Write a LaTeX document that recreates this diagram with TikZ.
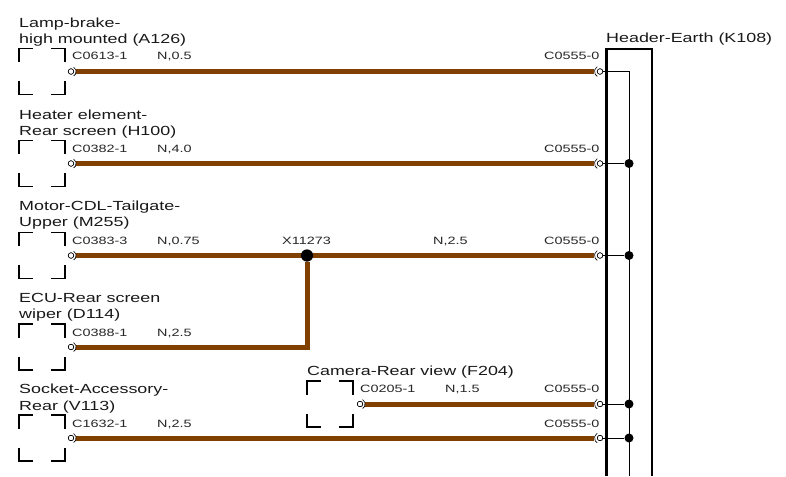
\documentclass[tikz,border=0pt]{standalone}
\usepackage{fontspec}
\setmainfont{Liberation Sans}
\newfontfamily\ttlfont[FakeStretch=1.355]{Liberation Sans}
\newfontfamily\smlfont[FakeStretch=1.36]{Liberation Sans}
\definecolor{wirebrown}{RGB}{128,64,0}
\tikzset{
  x=1pt,y=-1pt,
  wirep/.style={draw=wirebrown,line width=5pt},
  brk/.style={draw=black,line width=1.8pt},
  thin wire/.style={draw=black,line width=1pt},
  bar/.style={draw=black,line width=2.4pt},
  title/.style={inner sep=0pt,anchor=base west,font=\ttlfont\fontsize{13.2}{15}\selectfont,text=black!90},
  small/.style={inner sep=0pt,anchor=base west,font=\smlfont\fontsize{10.6}{12}\selectfont,text=black!85},
  term/.style={circle,draw=black,fill=white,line width=.6pt,minimum size=5.5pt,inner sep=0pt},
  dot/.style={circle,fill=black,minimum size=9pt,inner sep=0pt},
  bigdot/.style={circle,fill=black,minimum size=12pt,inner sep=0pt},
  pinarc/.style={draw=black,line width=.6pt}
}
\newcommand{\compbox}[3]{% name, x-left, y-wire
  \coordinate (#1) at (#2,#3);
  \draw[brk] (#2,#3-9.5) -- (#2,#3-23) -- (#2+14,#3-23);
  \draw[brk] (#2+32,#3-23) -- (#2+46,#3-23) -- (#2+46,#3-9.5);
  \draw[brk] (#2,#3+9.5) -- (#2,#3+23) -- (#2+14,#3+23);
  \draw[brk] (#2+32,#3+23) -- (#2+46,#3+23) -- (#2+46,#3+9.5);
}
\newcommand{\termL}[3]{%
  \draw[pinarc] (#2+2.6,#3-4.5) arc (60:-60:5.2pt);
  \node[term] (#1) at (#2,#3) {};
}
\newcommand{\termR}[3]{%
  \draw[pinarc] (#2-2.8,#3-4.85) arc (120:240:5.6pt);
  \node[term] (#1) at (#2,#3) {};
}
\begin{document}
\begin{tikzpicture}
\useasboundingbox (0,0) rectangle (786,476);
\fill[white] (0,0) rectangle (786,476);
% header
\coordinate (hTL) at (606.5,49);
\coordinate (hTR) at (652,49);
\coordinate (hBL) at (606.5,476);
\coordinate (hBR) at (652,476);
\coordinate (busB) at (629,476);
\coordinate (busT) at (629,71.5);
\node[title] (hdr) at (606,43) {Header-Earth (K108)};
% wires first
\node[term] (r1) at (600,71.5) {};
\node[term] (r2) at (600,163.5) {};
\node[term] (r3) at (600,255.5) {};
\node[term] (r4) at (600,404) {};
\node[term] (r5) at (600,438) {};
\node[term] (l1) at (71,71.5) {};
\node[term] (l2) at (71,163.5) {};
\node[term] (l3) at (71,255.5) {};
\node[term] (l4) at (71,347) {};
\node[term] (l5) at (71,438) {};
\node[term] (l6) at (360,404) {};
\node[bigdot] (x1) at (307,255.5) {};
\coordinate (kn) at (309.5,347);
\draw[wirep,shorten <=2pt,shorten >=2.5pt] (l1) -- (r1);
\draw[wirep,shorten <=2pt,shorten >=2.5pt] (l2) -- (r2);
\draw[wirep,shorten <=2pt] (l3) -- (x1);
\draw[wirep,shorten >=2.5pt] (x1) -- (r3);
\draw[wirep,shorten <=2pt] (l4) -- (kn);
\draw[wirep] (307,347) -- (x1);
\draw[wirep,shorten <=2pt,shorten >=2.5pt] (l5) -- (r5);
\draw[wirep,shorten <=2pt,shorten >=2.5pt] (l6) -- (r4);
\node[bigdot] at (x1) {};
% header bars
\draw[bar] (hBL) -- (hTL) -- (hTR) -- (hBR);
% bus
\node[dot] (d2) at (629,163.5) {};
\node[dot] (d3) at (629,255.5) {};
\node[dot] (d4) at (629,404) {};
\node[dot] (d5) at (629,438) {};
\draw[thin wire] (r1) -- (busT) -- (busB);
\draw[thin wire] (r2) -- (d2);
\draw[thin wire] (r3) -- (d3);
\draw[thin wire] (r4) -- (d4);
\draw[thin wire] (r5) -- (d5);
% terminals
\termR{r1}{600}{71.5}\termR{r2}{600}{163.5}\termR{r3}{600}{255.5}\termR{r4}{600}{404}\termR{r5}{600}{438}
\termL{l1}{71}{71.5}\termL{l2}{71}{163.5}\termL{l3}{71}{255.5}\termL{l4}{71}{347}\termL{l5}{71}{438}\termL{l6}{360}{404}
% boxes
\compbox{b1}{19}{71.5}\compbox{b2}{19}{163.5}\compbox{b3}{19}{255.5}\compbox{b4}{19}{347}\compbox{b5}{19}{438}\compbox{b6}{307}{404}
% titles
\node[title] (t1a) at (19,27.5) {Lamp-brake-};
\node[title] (t1b) at (19,43.5) {high mounted (A126)};
\node[title] (t2a) at (19,119.5) {Heater element-};
\node[title] (t2b) at (19,135.5) {Rear screen (H100)};
\node[title] (t3a) at (19,210.5) {Motor-CDL-Tailgate-};
\node[title] (t3b) at (19,226.5) {Upper (M255)};
\node[title] (t4a) at (19,302) {ECU-Rear screen};
\node[title] (t4b) at (19,318) {wiper (D114)};
\node[title] (t5a) at (19,393.5) {Socket-Accessory-};
\node[title] (t5b) at (19,410) {Rear (V113)};
\node[title] (t6) at (307,375) {Camera-Rear view (F204)};
% small labels
\node[small] (c1) at (72,60) {C0613-1};
\node[small] (n1) at (157,60) {N,0.5};
\node[small] (e1) at (544,60) {C0555-0};
\node[small] (c2) at (72,152) {C0382-1};
\node[small] (n2) at (157,152) {N,4.0};
\node[small] (e2) at (544,152) {C0555-0};
\node[small] (c3) at (72,244) {C0383-3};
\node[small] (n3) at (157,244) {N,0.75};
\node[small] (xl) at (282,244) {X11273};
\node[small] (n3b) at (433,244) {N,2.5};
\node[small] (e3) at (544,244) {C0555-0};
\node[small] (c4) at (72,336) {C0388-1};
\node[small] (n4) at (157,336) {N,2.5};
\node[small] (c6) at (360,392) {C0205-1};
\node[small] (n6) at (445,392) {N,1.5};
\node[small] (e6) at (544,392) {C0555-0};
\node[small] (c5) at (72,427) {C1632-1};
\node[small] (n5) at (157,427) {N,2.5};
\node[small] (e5) at (544,427) {C0555-0};
\end{tikzpicture}
\end{document}
